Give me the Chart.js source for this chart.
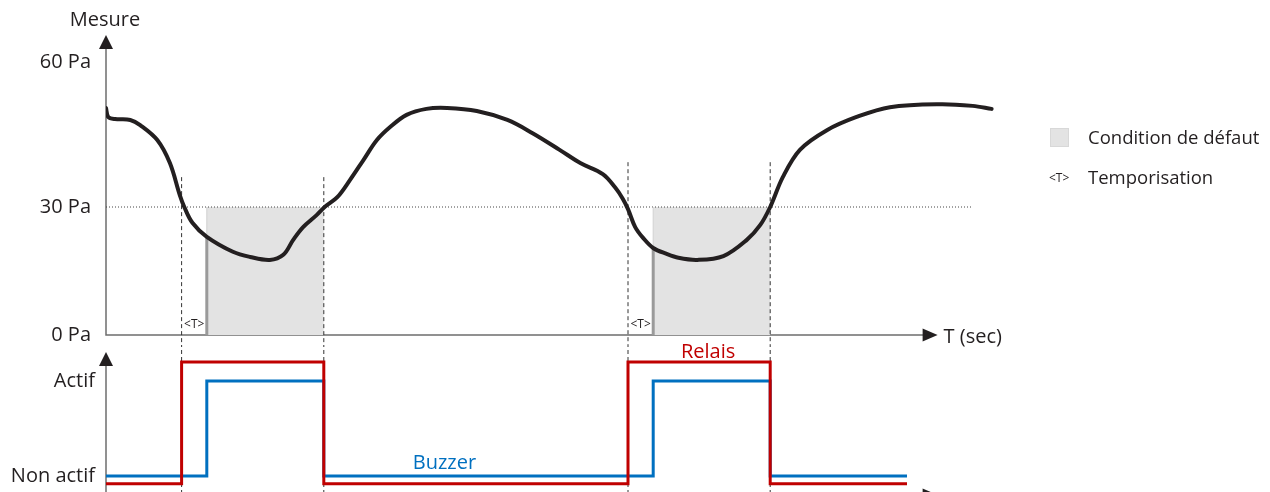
<!DOCTYPE html>
<html>
<head>
<meta charset="utf-8">
<script src="https://cdn.jsdelivr.net/npm/chart.js@4.4.1/dist/chart.umd.min.js"></script>
<style>
  body { margin: 0; background: #fff; }
  #wrap { position: relative; width: 1270px; height: 492px; overflow: hidden; font-family: 'Open Sans', sans-serif; color: #231f20; }
  #legend .sq { position: absolute; left: 1050px; top: 128px; width: 19px; height: 19px; background: #e3e3e3; border: 1px solid #d8d8d8; box-sizing: border-box; }
  #legend .txt { position: absolute; left: 1088px; font-size: 18.5px; line-height: 20px; white-space: nowrap; }
  #legend .tmark { position: absolute; left: 1049px; top: 171px; font-size: 12px; line-height: 14px; }
</style>
</head>
<body>
<div id="wrap">
  <canvas id="diagramme" width="1270" height="492"></canvas>
  <div id="legend">
    <div class="sq"></div>
    <div class="txt" style="top:127px">Condition de défaut</div>
    <div class="tmark">&lt;T&gt;</div>
    <div class="txt" style="top:167px">Temporisation</div>
  </div>
</div>
<script>
// courbe de mesure (temps, Pa)
var curveT  = [0, 0.25, 1.0, 2.7, 3.8, 5.7, 7.1, 8.2, 8.7, 9.6,
               11.2, 14.1, 16.0, 18.2, 19.7, 20.8, 21.9, 23.4, 24.3, 25.7,
               27.1, 28.6, 30.1, 31.6, 33.4, 35.6, 37.9, 41.2, 44.6, 47.4,
               50.4, 52.7, 55.2, 56.6, 57.4, 58.0, 58.8, 59.7, 60.8, 62.3,
               63.6, 65.7, 68.6, 71.2, 72.7, 73.8, 75.2, 77.1, 80.1, 83.4,
               87.1, 92.7, 96.3, 98.4];
var curvePa = [53.2, 51.1, 50.6, 50.4, 49.2, 45.7, 40.3, 32.8, 30.0, 26.3,
               23.0, 19.5, 18.3, 17.6, 18.8, 22.3, 25.3, 28.1, 30.0, 32.3,
               36.3, 41.0, 45.7, 48.8, 51.6, 53.0, 53.2, 52.5, 50.4, 47.3,
               43.4, 40.3, 37.7, 34.5, 32.0, 29.5, 25.3, 22.7, 20.4, 19.0,
               18.1, 17.6, 18.5, 22.3, 25.8, 30.0, 37.0, 43.4, 48.0, 51.1,
               53.4, 54.1, 53.7, 53.0];

var threshold = 30;
var thresholdEnd = 96.3;
var alarmT   = [8.4, 24.2, 58.0, 73.8];      // lignes pointillées
var alarmTop = [37.0, 37.0, 40.5, 40.5];
var faultStart = [11.2, 60.8];
var faultEnd   = [24.2, 73.8];
var faultBarTop = [23.0, 20.4];
var tempoLabelT = [9.8, 59.4];

// axes
var paTicks  = [0, 30, 64];
var paLabels = ['0 Pa', '30 Pa', '60 Pa'];
var stateTicks  = [0, 1];
var stateLabels = ['Non actif', 'Actif'];

// sorties
var relaisT     = [0, 8.4, 24.2, 58.0, 73.8, 89];
var relaisLevel = [-0.08, 1.2, -0.08, 1.2, -0.08, -0.08];
var buzzerT     = [0, 11.2, 24.2, 60.8, 73.8, 89];
var buzzerLevel = [0, 1, 0, 1, 0, 0];

var FONT = "'Open Sans', sans-serif";
var TXT = '#231f20';

function pts(xs, ys){ return xs.map(function(x, i){ return {x: x, y: ys[i]}; }); }

var datasets = [];
datasets.push({data: pts(curveT, curvePa), yAxisID: 'yPa', borderColor: TXT, borderWidth: 4,
  tension: 0.35, borderCapStyle: 'round', borderJoinStyle: 'round'});
datasets.push({data: pts(relaisT, relaisLevel), yAxisID: 'yEtat', stepped: 'before', borderColor: '#c00000', borderWidth: 3});
datasets.push({data: pts(buzzerT, buzzerLevel), yAxisID: 'yEtat', stepped: 'before', borderColor: '#0070c0', borderWidth: 3});

for (var i = 0; i < alarmT.length; i++) {
  datasets.push({data: [{x: alarmT[i], y: alarmTop[i]}, {x: alarmT[i], y: -2.4}], yAxisID: 'yPa',
    borderColor: '#333', borderWidth: 1, borderDash: [4, 3]});
  datasets.push({data: [{x: alarmT[i], y: 1.4}, {x: alarmT[i], y: -0.2}], yAxisID: 'yEtat',
    borderColor: '#333', borderWidth: 1, borderDash: [4, 3]});
}
for (var k = 0; k < faultStart.length; k++) {
  datasets.push({data: [{x: faultStart[k], y: 0}, {x: faultStart[k], y: faultBarTop[k]}], yAxisID: 'yPa',
    borderColor: '#9a9a9a', borderWidth: 3});
  datasets.push({data: [{x: faultStart[k], y: faultBarTop[k]}, {x: faultStart[k], y: threshold}], yAxisID: 'yPa',
    borderColor: '#cfcfcf', borderWidth: 1});
}
datasets.push({data: [{x: 0, y: threshold}, {x: thresholdEnd, y: threshold}], yAxisID: 'yPa',
  borderColor: '#444', borderWidth: 1, borderDash: [1, 2]});
for (var f = 0; f < faultStart.length; f++) {
  datasets.push({data: [{x: faultStart[f], y: threshold}, {x: faultEnd[f], y: threshold}], yAxisID: 'yPa',
    fill: 'origin', backgroundColor: '#e3e3e3', borderWidth: 0});
}

function arrow(ctx, x, y, dir){
  ctx.beginPath();
  if (dir === 'up') { ctx.moveTo(x, y); ctx.lineTo(x - 7, y + 14); ctx.lineTo(x + 7, y + 14); }
  else { ctx.moveTo(x, y); ctx.lineTo(x - 15, y - 6.5); ctx.lineTo(x - 15, y + 6.5); }
  ctx.closePath();
  ctx.fill();
}

var diagramPlugin = {
  id: 'diagram',
  beforeDatasetsDraw: function(chart){
    var ctx = chart.ctx, xs = chart.scales.x, yPa = chart.scales.yPa, yE = chart.scales.yEtat;
    var x0 = xs.getPixelForValue(0), y0 = yPa.getPixelForValue(0);
    ctx.save();
    ctx.strokeStyle = '#6d6d6d';
    ctx.lineWidth = 1.5;
    ctx.beginPath();
    ctx.moveTo(x0, yPa.top + 13); ctx.lineTo(x0, y0);
    ctx.lineTo(xs.getPixelForValue(92.4) - 14, y0);
    ctx.moveTo(x0, yE.top + 20); ctx.lineTo(x0, yE.bottom);
    ctx.stroke();
    ctx.restore();
  },
  afterDatasetsDraw: function(chart){
    var ctx = chart.ctx, xs = chart.scales.x, yPa = chart.scales.yPa, yE = chart.scales.yEtat;
    var x0 = xs.getPixelForValue(0), y0 = yPa.getPixelForValue(0);
    var xEnd = xs.getPixelForValue(92.4);
    ctx.save();
    ctx.fillStyle = TXT;
    arrow(ctx, x0, yPa.top, 'up');
    arrow(ctx, x0, yE.top + 7, 'up');
    arrow(ctx, xEnd, y0, 'right');
    arrow(ctx, xEnd, yE.bottom + 3, 'right');

    ctx.textBaseline = 'middle';
    ctx.font = '20px ' + FONT;
    ctx.textAlign = 'center';
    ctx.fillText('Mesure', x0 - 1, yPa.top - 15);
    ctx.textAlign = 'left';
    ctx.fillText('T (sec)', xEnd + 6, y0 + 2);

    ctx.textAlign = 'center';
    ctx.fillStyle = '#c00000';
    ctx.fillText('Relais', xs.getPixelForValue(66.9), yE.getPixelForValue(1.3));
    ctx.fillStyle = '#0070c0';
    ctx.fillText('Buzzer', xs.getPixelForValue(37.6), yE.getPixelForValue(0.13));

    ctx.fillStyle = TXT;
    ctx.font = '12px ' + FONT;
    tempoLabelT.forEach(function(t){
      ctx.fillText('<T>', xs.getPixelForValue(t), yPa.getPixelForValue(2.4));
    });
    ctx.restore();
  }
};

var tickFont = {family: FONT, size: 20};

function fixAxis(s){
  s.width = 106;
  s.paddingTop = 0;
  s.paddingBottom = 0;
}

new Chart(document.getElementById('diagramme'), {
  type: 'line',
  data: {datasets: datasets},
  options: {
    responsive: false,
    animation: false,
    devicePixelRatio: 1,
    layout: {padding: {top: 35, right: 264, bottom: 0, left: 0}},
    elements: {point: {radius: 0, hoverRadius: 0}, line: {fill: false, tension: 0}},
    plugins: {legend: {display: false}, tooltip: {enabled: false}},
    events: [],
    scales: {
      x: {type: 'linear', min: 0, max: 100, display: false},
      yPa: {
        type: 'linear', position: 'left', stack: 'diag', stackWeight: 310, weight: 2,
        min: -2.34, max: 70.31,
        afterFit: fixAxis,
        afterBuildTicks: function(s){ s.ticks = paTicks.map(function(v){ return {value: v}; }); },
        grid: {display: false, drawTicks: false}, border: {display: false},
        ticks: {font: tickFont, color: TXT, padding: 15,
          callback: function(v){ return paLabels[paTicks.indexOf(v)]; }}
      },
      yEtat: {
        type: 'linear', position: 'left', stack: 'diag', stackWeight: 147, weight: 1,
        min: -0.168, max: 1.379,
        afterFit: fixAxis,
        afterBuildTicks: function(s){ s.ticks = stateTicks.map(function(v){ return {value: v}; }); },
        grid: {display: false, drawTicks: false}, border: {display: false},
        ticks: {font: tickFont, color: TXT, padding: 11,
          callback: function(v){ return stateLabels[stateTicks.indexOf(v)]; }}
      }
    }
  },
  plugins: [diagramPlugin]
});
</script>
</body>
</html>
